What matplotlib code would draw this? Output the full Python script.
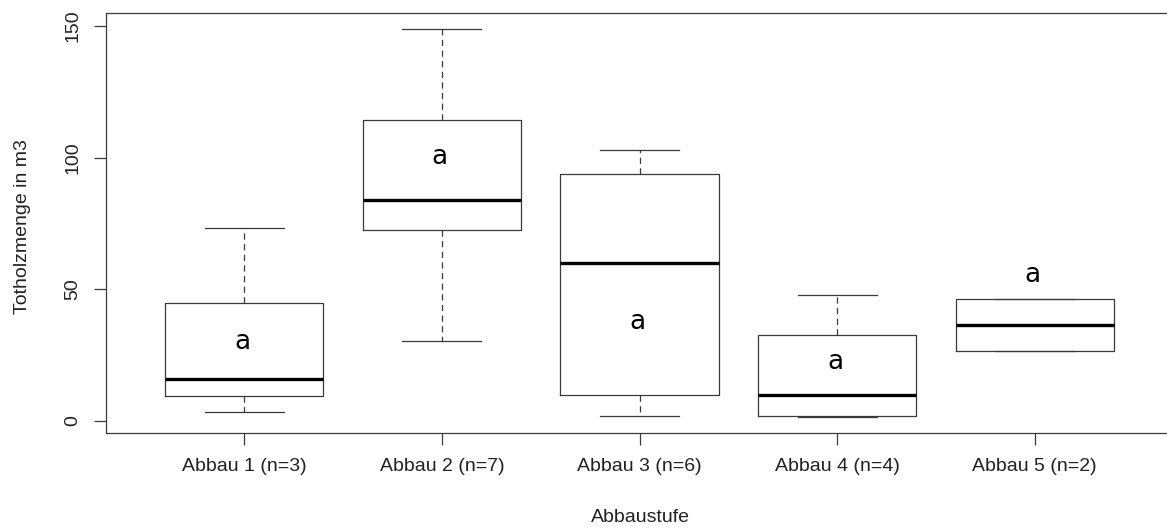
import matplotlib.pyplot as plt

plt.rcParams['font.family'] = ['Liberation Sans', 'DejaVu Sans']

# summary values per group
groups = ["Abbau 1 (n=3)", "Abbau 2 (n=7)", "Abbau 3 (n=6)", "Abbau 4 (n=4)", "Abbau 5 (n=2)"]
mins = [3.4, 30.5, 1.8, 1.5, 26.7]
q1s = [9.6, 72.5, 9.9, 2.0, 26.7]
medians = [16.0, 83.9, 60.1, 9.9, 36.3]
q3s = [44.7, 114.3, 93.9, 32.7, 46.2]
maxs = [73.4, 148.9, 102.9, 47.7, 46.2]

letters = ["a", "a", "a", "a", "a"]
letter_y = [30.1, 100.4, 37.7, 22.5, 55.4]

stats = []
for lab, lo, a, m, b, hi in zip(groups, mins, q1s, medians, q3s, maxs):
    stats.append({"label": lab, "whislo": lo, "q1": a, "med": m,
                  "q3": b, "whishi": hi, "fliers": []})

fig = plt.figure(figsize=(11.67, 5.28), dpi=100)
ax = fig.add_axes([106 / 1167, (528 - 432.7) / 528,
                   (1173 - 106) / 1167, (432.7 - 13.3) / 528])

edge = "#3a3a3a"
pos = list(range(1, len(groups) + 1))
ax.bxp(stats, positions=pos, widths=0.8, showfliers=False,
       boxprops=dict(color=edge, linewidth=0.9),
       whiskerprops=dict(color=edge, linewidth=0.9, linestyle=(0, (5, 3.5))),
       capprops=dict(color=edge, linewidth=0.9),
       medianprops=dict(color="black", linewidth=2.4, solid_capstyle="butt"))

for x, y, t in zip(pos, letter_y, letters):
    ax.text(x - 0.01, y, t, ha="center", va="center", fontsize=19,
            family="DejaVu Sans", color="black")

ax.set_xlim(0.3, 5.7)
ax.set_ylim(-4.44, 154.8)

ax.set_xticks(pos, groups, fontsize=14, color="#222222")
ax.set_yticks([0, 50, 100, 150], ["0", "50", "100", "150"],
              rotation=90, va="center", fontsize=14, color="#222222")
ax.tick_params(axis="x", length=8.5, width=0.9, color=edge, pad=10)
ax.tick_params(axis="y", length=8.5, width=0.9, color=edge, pad=9)

for s in ax.spines.values():
    s.set_color(edge)
    s.set_linewidth(0.9)

fig.text(640 / 1167, 1 - 517.3 / 528, "Abbaustufe", ha="center", va="center",
         fontsize=14, color="#222222")
fig.text(22.5 / 1167, 1 - 226.5 / 528, "Totholzmenge in m3", ha="center",
         va="center", rotation=90, fontsize=14, color="#222222")

fig.savefig("out.png", dpi=100)
